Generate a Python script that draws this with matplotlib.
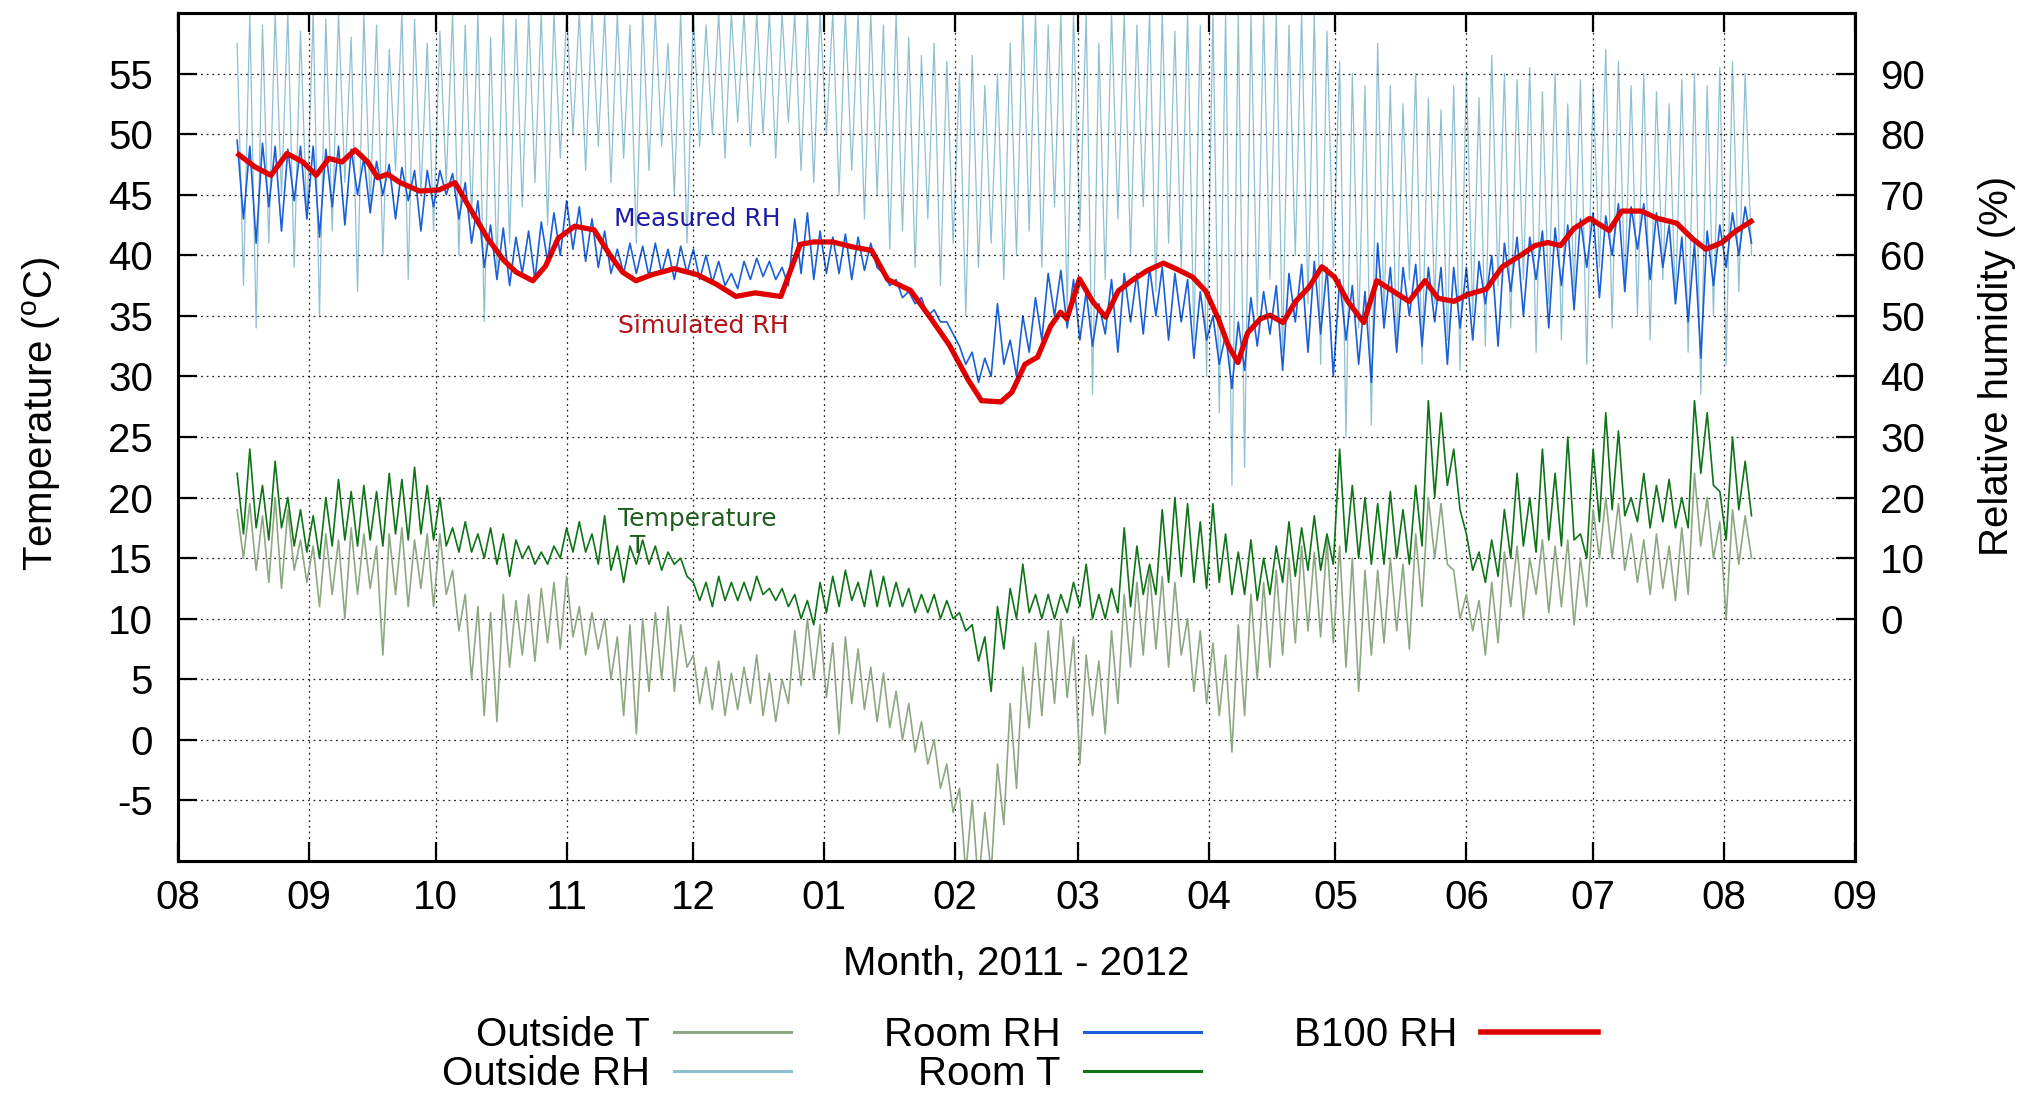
import numpy as np
import matplotlib
matplotlib.use('Agg')
import matplotlib.pyplot as plt
import matplotlib.dates as mdates
from datetime import datetime

plt.rcParams['font.family'] = ['Liberation Sans', 'DejaVu Sans']
plt.rcParams['mathtext.fontset'] = 'custom'
plt.rcParams['mathtext.rm'] = 'Liberation Sans'
plt.rcParams['mathtext.it'] = 'Liberation Sans:italic'
plt.rcParams['axes.unicode_minus'] = False

# ---------------- data ----------------
# noisy series sampled every 3 days from 2011-08-15: a high value then a low value
room_rh_hi = [79, 78, 78.5, 78, 77.5, 78, 78, 77.5, 78, 77.5,
              76, 75.5, 75, 74.5, 74, 74, 74, 73.5, 72, 69,
              65, 64.5, 63, 64, 65.5, 67, 69, 68, 66, 64,
              61, 62, 61.5, 62, 61, 61.5, 61, 60, 59, 57,
              59, 59.5, 59, 58, 66, 67, 64, 63, 63.5, 63,
              62, 57, 56, 54, 53, 51, 49, 45, 44, 43,
              52, 46, 50, 53, 57, 57.5, 56, 54, 52, 56,
              57, 57, 58, 58, 57, 56, 54, 50, 47, 49,
              53, 54, 55, 57, 58.5, 59, 58, 56, 55, 54,
              62, 58, 58, 58.5, 58, 58, 58, 58, 59, 60,
              62, 63, 63, 64, 64.5, 65, 66, 67, 66.5, 68.5,
              68, 68.5, 67, 65, 63, 62, 64, 65, 67, 68]
room_rh_lo = [66, 62, 68, 64, 69, 66, 63, 68, 65, 70,
              67, 70, 66, 69, 64, 68, 70, 66, 62, 58,
              56, 55, 57, 56, 59, 60, 61, 59, 58, 57,
              57, 57, 56.5, 57, 56, 57, 56, 55.5, 55, 54.5,
              56, 56.5, 56, 55, 57, 56, 57, 57, 56, 57.5,
              58, 55, 53, 52, 50, 49, 47, 42, 39, 40,
              42, 40, 44, 46, 50, 48, 46, 45, 47, 44,
              49, 47, 50, 46, 49, 43, 46, 42, 38, 41,
              45, 47, 41, 49, 44, 47, 40, 46, 42, 39,
              48, 44, 50, 45, 49, 42, 48, 46, 52, 45,
              54, 50, 56, 48, 55, 51, 58, 53, 60, 54,
              61, 56, 58, 52, 49, 43, 55, 58, 60, 62]

out_rh_hi = [95, 100, 98, 100, 100, 97, 100, 99, 100, 96,
             100, 98, 94, 100, 99, 95, 97, 100, 98, 100,
             96, 100, 99, 100, 100, 100, 100, 100, 100, 100,
             100, 98, 100, 100, 95, 100, 100, 98, 100, 100,
             100, 100, 100, 100, 100, 100, 100, 100, 100, 100,
             100, 98, 100, 96, 93, 95, 92, 90, 93, 88,
             90, 95, 100, 100, 98, 100, 100, 100, 95, 100,
             100, 98, 100, 100, 97, 100, 98, 100, 100, 100,
             100, 100, 100, 98, 100, 100, 97, 92, 90, 88,
             95, 88, 85, 90, 86, 84, 88, 90, 86, 93,
             90, 89, 91, 87, 90, 85, 89, 88, 94, 92,
             88, 90, 87, 85, 89, 90, 88, 91, 92, 90]
out_rh_lo = [55, 48, 62, 70, 58, 66, 50, 64, 72, 54,
             68, 60, 74, 56, 70, 64, 72, 60, 66, 49,
             58, 62, 68, 72, 65, 76, 80, 74, 78, 72,
             76, 62, 74, 78, 70, 62, 78, 80, 76, 82,
             78, 80, 76, 82, 74, 72, 80, 70, 74, 66,
             70, 61, 64, 58, 66, 55, 62, 50, 58, 62,
             56, 60, 64, 58, 68, 51, 64, 37, 56, 66,
             60, 68, 54, 62, 58, 46, 40, 34, 22, 25,
             50, 56, 44, 60, 52, 42, 58, 30, 48, 32,
             50, 44, 56, 42, 52, 46, 41, 50, 45, 55,
             48, 56, 44, 52, 46, 54, 42, 58, 48, 55,
             50, 46, 56, 52, 44, 37, 50, 42, 54, 60]

out_t_hi = [19, 19.5, 18.5, 20, 19, 16.5, 16, 17, 16.5, 17.5,
            17, 16, 17, 17.5, 16.5, 17, 17, 14, 12, 11,
            10.5, 12, 11.5, 12, 12.5, 13, 13.5, 11, 10.5, 10,
            8.5, 9.5, 10, 10.5, 11, 9.5, 7, 6, 6.5, 5.5,
            6, 7, 5.5, 5, 9, 10, 9.5, 8, 8.5, 7.5,
            6, 5.5, 4, 3, 1.5, 0, -2, -4, -5, -6,
            -2, 3, 6, 8, 9, 10, 8.5, 7, 6.5, 9,
            12, 13, 14, 13.5, 13, 10, 9, 8, 7, 9.5,
            12, 13, 14, 15, 16, 15.5, 16.5, 16, 15, 14,
            14, 15, 14.5, 17, 20, 19.5, 14, 12, 11.5, 13,
            15.5, 16, 15, 16.5, 16, 16.5, 15, 19, 20, 19.5,
            17, 16.5, 17, 16, 17.5, 22, 20, 18, 19, 18.5]
out_t_lo = [15, 14, 13, 12.5, 14, 13, 11, 12, 10, 12,
            12.5, 7, 12, 11, 12.5, 11, 12, 9, 5, 2,
            1.5, 6, 7, 6.5, 8, 7.5, 8.5, 7, 7.5, 5,
            2, 0.5, 4, 5, 4, 6, 3, 2.5, 2, 2.5,
            3, 2, 1.5, 3, 4.5, 5, 3.5, 0.5, 3, 2.5,
            1.5, 1, 0, -1, -2, -4, -6, -11, -12, -11,
            -7, -4, 1, 2, 3, 3.5, -2, 2, 0.5, 3,
            6, 7, 7.5, 6, 7, 4, 3, 2, -1, 2,
            5, 6, 7, 8, 9, 8.5, 8, 6, 4, 7,
            8, 9, 7.5, 11, 15, 14.5, 10, 9, 7, 8,
            11, 10, 12, 10.5, 11, 9.5, 11, 15, 15, 14,
            13, 12, 12.5, 11.5, 12, 16, 15, 10, 14.5, 15]

room_t_hi = [22, 24, 21, 23, 20, 19, 18.5, 20, 21.5, 20.5,
             21, 20.5, 22, 21.5, 22.5, 21, 20, 17.5, 18, 17,
             17.5, 17, 16.5, 16, 15.5, 16, 17.5, 18, 17, 18.5,
             16, 16, 16.5, 16, 15.5, 15, 13, 13, 13.5, 13,
             13, 13.5, 12.5, 12.5, 12, 11.5, 13, 13.5, 14, 13,
             14, 13.5, 13, 12.5, 12, 12, 11.5, 10.5, 9.5, 8.5,
             11, 12.5, 14.5, 12, 12, 12, 13, 14.5, 12, 12.5,
             17.5, 16, 14.5, 19, 20, 19.5, 18, 19.5, 17, 15.5,
             16.5, 15, 16, 18, 17.5, 18.5, 17, 24, 21, 20,
             19.5, 20.5, 19, 21, 28, 27, 24, 17, 15.5, 16.5,
             19, 22, 20, 24, 22, 25, 17, 24, 27, 25.5,
             20, 22, 21, 21.5, 20, 28, 27, 20.5, 25, 23]
room_t_lo = [17, 17.5, 16.5, 17.5, 16, 15.5, 15, 16, 16.5, 16,
             16.5, 16, 17, 16.5, 17, 16.5, 16, 15.5, 15.5, 15,
             14.5, 13.5, 15, 14.5, 14.5, 15, 15.5, 15.5, 14.5, 14,
             13, 14.5, 14.5, 14, 14.5, 13.5, 11.5, 11, 11.5, 11.5,
             11.5, 12, 11.5, 11, 10, 9.5, 10.5, 11, 11.5, 11,
             11, 11, 11, 10.5, 10.5, 10, 10, 9, 6.5, 4,
             7.5, 10, 10.5, 10, 10, 10.5, 11, 10, 10, 10.5,
             11, 12, 12, 13, 13.5, 13, 12.5, 13, 12, 12,
             11.5, 12, 13, 13.5, 14, 14, 14.5, 15.5, 15, 14.5,
             14.5, 15, 14.5, 16, 20, 21, 19, 14, 13, 13.5,
             15, 16, 15.5, 16.5, 16, 16.5, 15, 18, 19, 18.5,
             18, 17.5, 18, 17.5, 17.5, 22, 21, 16.5, 19, 18.5]

# B100 simulated RH: day offset from 2011-08-01 and RH (%)
b100_day = [14.4, 18.2, 22.0, 25.8, 29.6, 32.7, 35.7, 38.8, 41.9, 44.9,
            47.3, 49.6, 52.6, 57.2, 61.8, 65.6, 69.4, 73.3, 77.1, 80.1,
            84.0, 87.0, 90.0, 93.9, 98.5, 102.3, 105.3, 108.4, 112.2, 117.5,
            122.9, 127.5, 132.1, 136.6, 142.7, 147.3, 150.4, 155.0, 159.6, 164.2,
            168.0, 173.4, 178.0, 182.6, 187.1, 190.2, 194.8, 197.4, 200.5, 203.5,
            206.6, 208.9, 210.4, 213.4, 216.5, 219.6, 222.6, 225.7, 229.5, 233.3,
            237.1, 240.2, 243.3, 246.3, 248.6, 250.9, 253.2, 256.2, 258.5, 261.6,
            264.6, 267.7, 270.8, 273.8, 276.9, 280.7, 283.8, 287.6, 291.4, 295.2,
            298.3, 302.1, 305.2, 309.7, 313.5, 318.1, 321.2, 324.3, 327.3, 330.4,
            334.2, 338.8, 341.8, 346.4, 350.2, 354.8, 358.6, 361.7, 365.5, 368.6,
            372.4]
b100_rh = [76.6, 74.6, 73.2, 76.8, 75.4, 73.2, 76.0, 75.4, 77.4, 75.4,
           72.8, 73.4, 72.0, 70.6, 70.8, 72.0, 67.4, 62.8, 59.2, 57.2,
           55.8, 58.2, 62.8, 64.8, 64.2, 60.0, 57.2, 55.8, 56.8, 57.8,
           56.8, 55.2, 53.2, 53.8, 53.2, 61.8, 62.2, 62.2, 61.4, 60.8,
           56.0, 54.2, 49.8, 45.2, 39.4, 36.0, 35.8, 37.4, 42.0, 43.2,
           48.3, 50.6, 49.5, 56.1, 52.4, 49.8, 54.1, 55.8, 57.5, 58.7,
           57.5, 56.4, 54.1, 49.5, 45.2, 42.3, 47.2, 49.5, 50.1, 48.9,
           52.4, 54.7, 58.1, 56.4, 52.4, 48.9, 55.8, 54.1, 52.4, 55.8,
           52.9, 52.4, 53.5, 54.4, 58.1, 60.1, 61.6, 62.1, 61.6, 64.4,
           66.1, 64.1, 67.3, 67.3, 66.1, 65.3, 62.7, 61.0, 62.1, 63.9,
           65.6]

month_labels_fmt = '%m'
temp_ticks = [-5, 0, 5, 10, 15, 20, 25, 30, 35, 40, 45, 50, 55]
rh_ticks = [0, 10, 20, 30, 40, 50, 60, 70, 80, 90]

# ---------------- helpers ----------------
series_start = np.datetime64('2011-08-15T00', 'h')
origin = np.datetime64('2011-08-01T00', 'h')


def zigzag(hi, lo):
    n = len(hi)
    t_hi = series_start + np.arange(n) * np.timedelta64(72, 'h')
    t = np.empty(2 * n, dtype='datetime64[h]')
    t[0::2] = t_hi
    t[1::2] = t_hi + np.timedelta64(36, 'h')
    v = np.empty(2 * n)
    v[0::2] = hi
    v[1::2] = lo
    return t.astype('datetime64[ms]').astype(datetime), v


def day_to_dates(days):
    hrs = np.round(np.asarray(days) * 24).astype(int)
    return (origin + hrs.astype('timedelta64[h]')).astype('datetime64[ms]').astype(datetime)


# ---------------- figure ----------------
fig = plt.figure(figsize=(20.24, 10.94), dpi=100)
ax = fig.add_axes([178 / 2024, 1 - 861 / 1094, (1855 - 178) / 2024, (861 - 13) / 1094])
ax2 = ax.twinx()
ax.set_zorder(ax2.get_zorder() + 1)
ax.patch.set_visible(False)

c_out_t = '#8da882'
c_out_rh = '#8fc0d2'
c_room_rh = '#1a5fd6'
c_room_t = '#0f7318'
c_b100 = '#e00000'

t, v = zigzag(out_rh_hi, out_rh_lo)
l_out_rh, = ax2.plot(t, v, color=c_out_rh, lw=0.9, label='Outside RH', zorder=1)
t, v = zigzag(room_rh_hi, room_rh_lo)
l_room_rh, = ax2.plot(t, v, color=c_room_rh, lw=1.2, label='Room RH', zorder=2)
l_b100, = ax2.plot(day_to_dates(b100_day), b100_rh, color=c_b100, lw=3.8,
                   label='B100 RH', zorder=3, solid_joinstyle='round')

t, v = zigzag(out_t_hi, out_t_lo)
l_out_t, = ax.plot(t, v, color=c_out_t, lw=1.2, label='Outside T', zorder=2)
t, v = zigzag(room_t_hi, room_t_lo)
l_room_t, = ax.plot(t, v, color=c_room_t, lw=1.2, label='Room T', zorder=3)

ax.set_xlim(datetime(2011, 8, 1), datetime(2012, 9, 1))
ax.set_ylim(-10, 60)
ax2.set_ylim(-40, 100)
ax.xaxis.set_major_locator(mdates.MonthLocator())
ax.xaxis.set_major_formatter(mdates.DateFormatter(month_labels_fmt))
ax.set_yticks(temp_ticks)
ax2.set_yticks(rh_ticks)

ax.grid(True, color='black', linestyle=(0, (1.5, 3)), linewidth=0.9, alpha=0.85)

ax.tick_params(axis='x', which='major', direction='in', length=14, width=1.6,
               top=True, bottom=True, labelsize=29, pad=13)
ax.tick_params(axis='y', which='major', direction='in', length=14, width=1.6,
               left=True, right=False, labelsize=29, pad=18)
ax2.tick_params(axis='y', which='major', direction='in', length=14, width=1.6,
                right=True, left=False, labelsize=29, pad=18)

for a in (ax, ax2):
    for s in a.spines.values():
        s.set_linewidth(2.2)

ax.set_ylabel(r'Temperature ($^{\rm o}$C)', fontsize=29)
ax.yaxis.set_label_coords(-0.0686, 0.527)
ax2.set_ylabel('Relative humidity (%)', fontsize=29)
ax2.yaxis.set_label_coords(1.0733, 0.584)
ax.set_xlabel('Month, 2011 - 2012', fontsize=29)
ax.xaxis.set_label_coords(0.5, -0.099)

# annotations
ax.text(datetime(2011, 11, 12, 5), 43.0, 'Measured RH', color='#1c1ca8',
        fontsize=18, family='DejaVu Sans', va='center', ha='left', zorder=5)
ax.text(datetime(2011, 11, 13, 5), 34.2, 'Simulated RH', color='#b3141b',
        fontsize=18, family='DejaVu Sans', va='center', ha='left', zorder=5)
ax.text(datetime(2011, 11, 13, 5), 18.2, 'Temperature', color='#1e5e1e',
        fontsize=18, family='DejaVu Sans', va='center', ha='left', zorder=5)
ax.text(datetime(2011, 11, 17, 17), 16.0, 'T', color='#1e5e1e',
        fontsize=18, family='DejaVu Sans', va='center', ha='center', zorder=5)

handles = [l_out_t, l_out_rh, l_room_rh, l_room_t, l_b100]
labels = [h.get_label() for h in handles]
leg = fig.legend(handles, labels, ncol=3, markerfirst=False, frameon=False,
                 loc='center', bbox_to_anchor=(1020 / 2024, 0.036),
                 fontsize=29, handlelength=2.9, handletextpad=0.6,
                 columnspacing=2.3, labelspacing=0.03, borderpad=0.1)
for ln, w in zip(leg.get_lines(), [2.2, 2.2, 2.2, 2.2, 4.0]):
    ln.set_linewidth(w)

fig.savefig('out.png', dpi=100)
